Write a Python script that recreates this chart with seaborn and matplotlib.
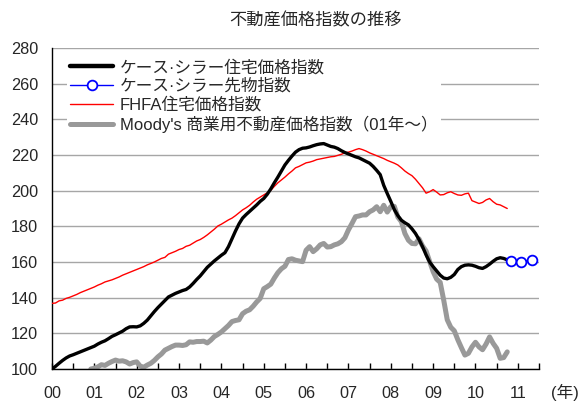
import numpy as np
import pandas as pd
import seaborn as sns
import matplotlib.pyplot as plt
from matplotlib.ticker import MultipleLocator, FuncFormatter

# monthly index values
# Case-Shiller 10-city, Jan 2000 - Oct 2010
case_shiller = [
    100.0, 101.5, 103.2, 104.8, 106.2, 107.3, 108.0, 108.8, 109.6, 110.4, 111.2, 112.0,
    112.8, 114.0, 115.0, 115.8, 117.0, 118.3, 119.2, 120.2, 121.2, 122.6, 123.6, 123.7,
    123.6, 124.2, 125.6, 127.4, 129.8, 132.2, 134.4, 136.4, 138.4, 140.4, 141.4, 142.4,
    143.2, 144.0, 144.6, 146.0, 148.0, 150.2, 152.2, 154.6, 157.0, 158.8, 160.6, 162.2,
    163.8, 165.2, 168.6, 173.0, 177.4, 181.4, 184.6, 186.6, 188.4, 190.2, 192.0, 194.0,
    195.6, 198.0, 201.0, 204.4, 207.6, 211.0, 214.4, 217.0, 219.4, 221.6, 223.0, 223.8,
    224.0, 224.5, 225.2, 225.8, 226.2, 226.4, 225.6, 224.8, 224.4, 223.6, 222.4, 221.4,
    220.6, 219.8, 219.0, 218.4, 217.4, 216.4, 215.4, 213.6, 211.4, 209.0, 203.0, 198.4,
    194.0, 189.4, 186.0, 183.4, 182.0, 180.8, 178.6, 176.0, 172.6, 168.6, 164.0, 160.0,
    157.4, 155.0, 152.6, 151.0, 150.6, 151.4, 153.0, 155.8, 157.4, 158.2, 158.4, 158.2,
    157.6, 156.8, 156.4, 157.4, 158.8, 160.4, 161.8, 162.4, 162.0, 161.2,
]

# Case-Shiller futures
futures_dates = ["2010-11", "2011-02", "2011-05"]
futures = [160.8, 160.2, 161.0]

# FHFA purchase-only, Jan 2000 - Oct 2010
fhfa = [
    136.8, 137.0, 138.2, 138.6, 139.6, 140.2, 141.0, 141.8, 142.8, 143.6, 144.4, 145.2,
    146.0, 147.0, 147.8, 148.8, 149.4, 150.0, 150.8, 151.6, 152.6, 153.4, 154.2, 155.0,
    155.8, 156.6, 157.4, 158.4, 159.2, 160.0, 161.0, 162.0, 162.6, 164.4, 165.2, 166.0,
    167.0, 167.6, 168.8, 169.4, 170.6, 171.8, 172.6, 173.8, 175.2, 176.8, 178.4, 180.2,
    181.2, 182.4, 183.6, 184.6, 186.0, 187.6, 189.2, 190.4, 191.8, 193.6, 195.2, 196.4,
    197.6, 198.8, 200.2, 202.4, 204.4, 206.0, 207.6, 209.4, 211.0, 212.8, 213.6, 214.6,
    215.6, 216.0, 216.6, 217.4, 217.8, 218.2, 218.6, 219.0, 219.2, 219.8, 220.4, 221.2,
    221.6, 222.2, 223.0, 223.6, 223.0, 222.2, 221.2, 220.4, 219.6, 218.8, 218.0, 217.0,
    216.2, 215.4, 214.4, 212.8, 211.0, 209.6, 208.4, 206.4, 204.0, 201.6, 198.6, 199.4,
    200.6, 199.2, 197.6, 197.8, 198.8, 199.4, 198.4, 197.6, 197.4, 198.2, 198.6, 194.4,
    193.6, 192.8, 193.4, 194.8, 195.6, 193.8, 192.4, 192.0, 191.0, 190.0,
]

# Moody's CPPI, Dec 2000 - Oct 2010
moodys = [
    100.0,
    100.4, 101.2, 102.4, 102.0, 103.2, 104.2, 105.0, 104.4, 104.6, 104.0, 102.8, 103.6,
    104.0, 101.6, 101.0, 102.2, 103.2, 104.8, 106.8, 108.4, 110.6, 111.6, 112.6, 113.4,
    113.4, 113.2, 113.6, 115.2, 115.0, 115.4, 115.4, 115.6, 114.6, 116.2, 118.2, 119.4,
    120.8, 122.6, 124.4, 126.6, 127.2, 127.6, 131.0, 132.4, 133.2, 135.2, 137.6, 139.6,
    145.0, 146.2, 147.6, 151.0, 154.0, 156.2, 157.6, 161.4, 161.8, 161.0, 160.6, 160.2,
    166.6, 168.6, 165.8, 167.4, 169.6, 170.4, 168.4, 168.6, 169.6, 170.2, 171.4, 173.6,
    178.0, 181.6, 185.4, 185.8, 186.4, 186.4, 188.2, 189.2, 191.0, 188.2, 191.8, 188.0,
    191.0, 191.2, 185.2, 182.6, 176.0, 172.2, 170.4, 170.2, 173.0, 169.0, 166.2, 160.4,
    154.6, 150.4, 148.6, 138.6, 127.6, 123.4, 121.4, 116.4, 112.0, 107.8, 108.8, 112.4,
    115.0, 112.4, 110.8, 114.0, 118.0, 114.4, 111.6, 106.0, 106.4, 109.6,
]

labels = ["ケース·シラー住宅価格指数", "ケース·シラー先物指数",
          "FHFA住宅価格指数", "Moody's 商業用不動産価格指数（01年～）"]


def to_year(dates):
    d = pd.to_datetime(dates)
    return d.year + (d.month - 1) / 12


cs_x = to_year(pd.date_range("2000-01", periods=len(case_shiller), freq="MS"))
fh_x = to_year(pd.date_range("2000-01", periods=len(fhfa), freq="MS"))
mo_x = to_year(pd.date_range("2000-12", periods=len(moodys), freq="MS"))
fu_x = to_year(futures_dates)

sns.set_style("white")
plt.rcParams['font.family'] = ['Liberation Sans', 'Noto Sans CJK JP']

fig = plt.figure(figsize=(5.8, 4.01), dpi=100)
ax = fig.add_axes([52 / 580, 32 / 401, 487 / 580, 321 / 401])

sns.lineplot(x=mo_x, y=moodys, color='#999999', lw=3.6, ax=ax, label=labels[3], zorder=2)
sns.lineplot(x=fh_x, y=fhfa, color='#ff0000', lw=1.0, ax=ax, label=labels[2], zorder=3)
sns.lineplot(x=cs_x, y=case_shiller, color='black', lw=2.4, ax=ax, label=labels[0], zorder=4)
sns.lineplot(x=fu_x, y=futures, color='#0000ff', lw=1.0, marker='o', markersize=7,
             markerfacecolor='white', markeredgecolor='#0000ff', markeredgewidth=1.3,
             ax=ax, label=labels[1], zorder=5)

ax.set_xlim(2000, 2011.5)
ax.set_ylim(100, 280)
ax.set_yticks(range(100, 281, 20))
ax.yaxis.grid(True, color='#a6a6a6', lw=1)
ax.set_axisbelow(True)
ax.set_xlabel('')
ax.set_ylabel('')

ax.xaxis.set_major_locator(MultipleLocator(1))
ax.xaxis.set_minor_locator(MultipleLocator(0.5))
ax.xaxis.set_major_formatter(FuncFormatter(lambda v, p: f"{int(round(v)) % 100:02d}"))
ax.tick_params(axis='x', which='both', direction='in', length=4, width=1, color='black',
               bottom=True, labelsize=11.7, pad=12)
ax.tick_params(axis='y', length=0, labelsize=11.7, pad=10)

for side in ['top', 'right']:
    ax.spines[side].set_visible(False)
for side in ['left', 'bottom']:
    ax.spines[side].set_color('black')
    ax.spines[side].set_linewidth(1)

h, l = ax.get_legend_handles_labels()
order = [l.index(t) for t in labels]
leg = ax.legend([h[i] for i in order], [l[i] for i in order], loc='upper left',
                bbox_to_anchor=(0.03, 0.975), borderaxespad=0, frameon=True,
                facecolor='white', edgecolor='none', framealpha=1, fancybox=False,
                fontsize=12, handlelength=2.6, handletextpad=0.4,
                labelspacing=0.18, borderpad=0.2)
for line in leg.get_lines():
    if line.get_color() == 'black':
        line.set_linewidth(3.2)

fig.text(316 / 580, 1 - 20 / 401, '不動産価格指数の推移', ha='center', va='center', fontsize=12.4)
fig.text(565 / 580, 1 - 392 / 401, '(年)', ha='center', va='center', fontsize=12)

fig.savefig('out.png', dpi=100)
